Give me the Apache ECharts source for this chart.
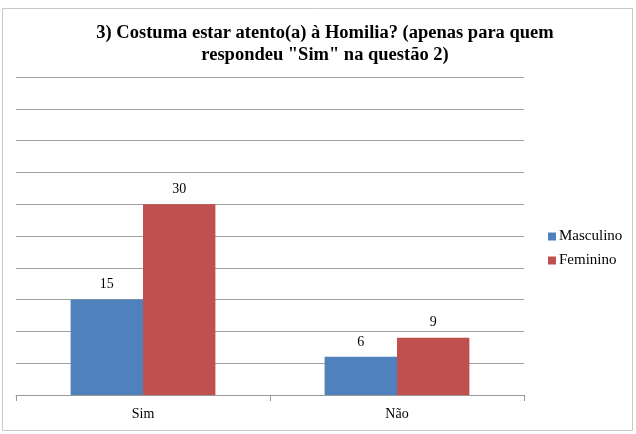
<!DOCTYPE html>
<html><head><meta charset="utf-8">
<script src="https://cdn.jsdelivr.net/npm/echarts@6/dist/echarts.min.js"></script>
<style>html,body{margin:0;padding:0;background:#fff}#c{width:636px;height:434px}</style>
</head><body><div id="c"></div>
<script>
const categories = ['Sim', 'Não'];
const masculino = [15, 6];
const feminino = [30, 9];
const seriesNames = ['Masculino', 'Feminino'];
const titleText = '3) Costuma estar atento(a) à Homilia? (apenas para quem\nrespondeu "Sim" na questão 2)';

const chart = echarts.init(document.getElementById('c'), null, {renderer: 'canvas'});
const serif = 'Liberation Serif';
const lbl = {show: true, position: 'top', distance: 8, color: '#000', fontFamily: serif, fontSize: 14};
chart.setOption({
  animation: false,
  backgroundColor: '#fff',
  graphic: [{type: 'rect', shape: {x: 2.5, y: 8.5, width: 630, height: 422}, style: {fill: 'none', stroke: '#c8c8c8', lineWidth: 1}, silent: true}],
  title: {text: titleText, left: 320, top: 17, textAlign: 'center',
    textStyle: {fontFamily: serif, fontWeight: 'bold', fontSize: 18.5, color: '#000', lineHeight: 22}},
  legend: {orient: 'vertical', left: 543, top: 224, itemWidth: 8, itemHeight: 8, itemGap: 9,
    icon: 'rect', data: seriesNames,
    textStyle: {fontFamily: serif, fontSize: 15, color: '#000', padding: [0, 0, 0, -2]}},
  grid: {left: 16, right: 112, top: 77, bottom: 39, containLabel: false},
  xAxis: {type: 'category', data: categories,
    axisLine: {lineStyle: {color: '#999'}},
    axisTick: {show: true, length: 6, lineStyle: {color: '#999'}},
    axisLabel: {color: '#000', fontFamily: serif, fontSize: 14, margin: 12}},
  yAxis: {type: 'value', min: 0, max: 50, interval: 5,
    axisLabel: {show: false}, axisLine: {show: false}, axisTick: {show: false},
    splitLine: {lineStyle: {color: '#a0a0a0', width: 1}}},
  series: [
    {name: seriesNames[0], type: 'bar', data: masculino, itemStyle: {color: '#4f81bd'}, barGap: '0%', barCategoryGap: '43%', label: lbl},
    {name: seriesNames[1], type: 'bar', data: feminino, itemStyle: {color: '#c0504d'}, barGap: '0%', barCategoryGap: '43%', label: lbl}
  ]
});
</script></body></html>
